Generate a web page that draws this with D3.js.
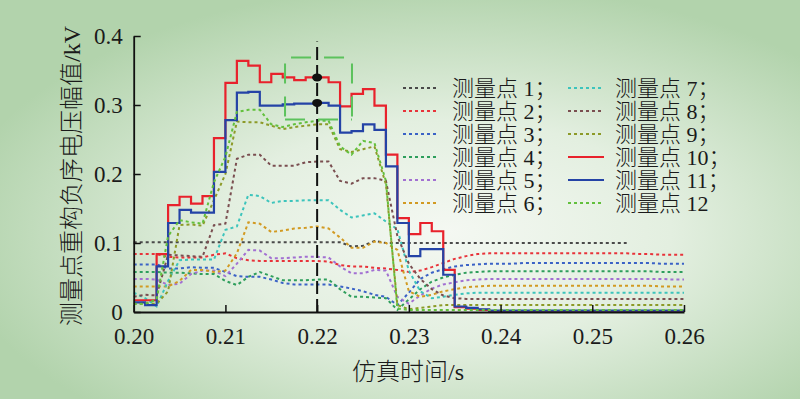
<!DOCTYPE html>
<html>
<head>
<meta charset="utf-8">
<script src="https://cdn.jsdelivr.net/npm/d3@7"></script>
<style>
  body { margin: 0; }
  svg { display: block; }
</style>
</head>
<body>
<div class="chart"></div>
<script>

// simulation time grid (s)
const times = [0.20000, 0.20125, 0.20250, 0.20375, 0.20500, 0.20625, 0.20750, 0.20875, 0.21000, 0.21125,
    0.21250, 0.21375, 0.21500, 0.21625, 0.21750, 0.21875, 0.22000, 0.22125, 0.22250, 0.22375,
    0.22500, 0.22625, 0.22750, 0.22875, 0.23000, 0.23125, 0.23250, 0.23375, 0.23500, 0.23625,
    0.23750, 0.23875, 0.24000, 0.24125, 0.24250, 0.24375, 0.24500, 0.24625, 0.24750, 0.24875,
    0.25000, 0.25125, 0.25250, 0.25375, 0.25500, 0.25625, 0.25750, 0.25875, 0.26000]

// reconstructed negative sequence voltage (kV) per measuring point
const p1 = [0.101, 0.101, 0.101, 0.101, 0.101, 0.101, 0.101, 0.101, 0.101, 0.101,
    0.101, 0.101, 0.101, 0.101, 0.101, 0.101, 0.101, 0.101, 0.101, 0.095,
    0.096, 0.103, 0.100, 0.100, 0.100, 0.100, 0.100, 0.100, 0.100, 0.100,
    0.100, 0.100, 0.100, 0.100, 0.100, 0.100, 0.100, 0.100, 0.100, 0.100,
    0.100, 0.100, 0.100, 0.100, null, null, null, null, null]
const p2 = [0.084, 0.084, 0.084, 0.080, 0.079, 0.079, 0.079, 0.083, 0.085, 0.078,
    0.075, 0.074, 0.074, 0.074, 0.074, 0.074, 0.074, 0.073, 0.068, 0.066,
    0.066, 0.064, 0.063, 0.061, 0.058, 0.060, 0.065, 0.071, 0.077, 0.081,
    0.084, 0.085, 0.085, 0.085, 0.085, 0.085, 0.085, 0.085, 0.085, 0.085,
    0.085, 0.085, 0.085, 0.085, 0.084, 0.084, 0.083, 0.083, 0.083]
const p3 = [0.069, 0.069, 0.069, 0.063, 0.063, 0.065, 0.064, 0.064, 0.058, 0.052,
    0.051, 0.051, 0.047, 0.042, 0.040, 0.040, 0.040, 0.040, 0.037, 0.034,
    0.030, 0.025, 0.022, 0.010, 0.028, 0.048, 0.057, 0.062, 0.066, 0.068,
    0.069, 0.070, 0.070, 0.070, 0.071, 0.071, 0.071, 0.071, 0.071, 0.071,
    0.071, 0.071, 0.071, 0.071, 0.071, 0.071, 0.070, 0.070, 0.070]
const p4 = [0.058, 0.058, 0.058, 0.057, 0.057, 0.056, 0.055, 0.055, 0.045, 0.039,
    0.051, 0.058, 0.052, 0.046, 0.046, 0.046, 0.047, 0.047, 0.033, 0.022,
    0.022, 0.021, 0.020, 0.003, 0.018, 0.033, 0.044, 0.050, 0.054, 0.057,
    0.058, 0.059, 0.059, 0.059, 0.059, 0.059, 0.059, 0.059, 0.059, 0.059,
    0.059, 0.059, 0.059, 0.059, 0.059, 0.059, 0.058, 0.058, 0.058]
const p5 = [0.048, 0.048, 0.047, 0.039, 0.041, 0.055, 0.060, 0.060, 0.052, 0.070,
    0.090, 0.089, 0.078, 0.078, 0.079, 0.080, 0.080, 0.079, 0.066, 0.056,
    0.056, 0.061, 0.060, 0.022, 0.012, 0.024, 0.034, 0.040, 0.043, 0.046,
    0.047, 0.048, 0.048, 0.048, 0.048, 0.048, 0.048, 0.048, 0.048, 0.048,
    0.048, 0.048, 0.048, 0.048, 0.048, 0.048, 0.048, 0.047, 0.047]
const p6 = [0.037, 0.037, 0.037, 0.037, 0.045, 0.061, 0.061, 0.058, 0.060, 0.085,
    0.130, 0.128, 0.116, 0.118, 0.121, 0.122, 0.124, 0.121, 0.108, 0.093,
    0.093, 0.102, 0.100, 0.090, 0.030, 0.022, 0.025, 0.030, 0.033, 0.036,
    0.037, 0.038, 0.038, 0.038, 0.038, 0.038, 0.038, 0.038, 0.038, 0.038,
    0.038, 0.038, 0.038, 0.038, 0.038, 0.038, 0.037, 0.037, 0.037]
const p7 = [0.028, 0.020, 0.008, 0.045, 0.075, 0.076, 0.076, 0.076, 0.119, 0.124,
    0.170, 0.168, 0.158, 0.161, 0.161, 0.162, 0.162, 0.162, 0.148, 0.137,
    0.140, 0.143, 0.131, 0.120, 0.060, 0.030, 0.020, 0.022, 0.025, 0.027,
    0.028, 0.028, 0.028, 0.028, 0.028, 0.028, 0.028, 0.028, 0.028, 0.028,
    0.028, 0.028, 0.028, 0.028, 0.028, 0.028, 0.028, 0.028, 0.028]
const p8 = [0.022, 0.025, 0.024, 0.083, 0.082, 0.081, 0.080, 0.126, 0.128, 0.222,
    0.228, 0.228, 0.212, 0.212, 0.212, 0.217, 0.218, 0.218, 0.190, 0.186,
    0.194, 0.194, 0.190, 0.110, 0.070, 0.048, 0.033, 0.024, 0.020, 0.019,
    0.019, 0.019, 0.019, 0.019, 0.019, 0.019, 0.019, 0.019, 0.019, 0.019,
    0.019, 0.019, 0.019, 0.019, 0.019, 0.019, 0.019, 0.019, 0.019]
const p9 = [0.012, 0.012, 0.012, 0.030, 0.126, 0.127, 0.125, 0.162, 0.200, 0.276,
    0.275, 0.275, 0.270, 0.265, 0.268, 0.270, 0.272, 0.272, 0.236, 0.232,
    0.236, 0.240, 0.185, 0.010, 0.004, 0.006, 0.008, 0.010, 0.010, 0.010,
    0.010, 0.010, 0.010, 0.010, 0.010, 0.010, 0.010, 0.010, 0.010, 0.010,
    0.010, 0.010, 0.010, 0.010, 0.010, 0.010, 0.010, 0.010, 0.010]
const p10 = [0.017, 0.017, 0.084, 0.155, 0.167, 0.157, 0.168, 0.252, 0.332, 0.364,
    0.357, 0.333, 0.345, 0.340, 0.336, 0.340, 0.340, 0.333, 0.298, 0.316,
    0.323, 0.299, 0.228, 0.136, 0.113, 0.129, 0.117, 0.061, 0.007, 0.005,
    0.003, 0.001, 0, 0, 0, 0, 0, 0, 0, 0,
    0, 0, 0, 0, 0, 0, 0, 0, 0]
const p11 = [0.014, 0.010, 0.066, 0.129, 0.148, 0.144, 0.144, 0.203, 0.278, 0.318,
    0.319, 0.299, 0.299, 0.301, 0.302, 0.302, 0.303, 0.299, 0.260, 0.262,
    0.272, 0.264, 0.211, 0.129, 0.081, 0.091, 0.091, 0.054, 0.008, 0.006,
    0.004, 0.002, 0.002, 0.002, 0.002, 0.002, 0.002, 0.002, 0.002, 0.002,
    0.002, 0.002, 0.002, 0.002, 0.002, 0.002, 0.002, 0.002, 0.002]
const p12 = [0.012, 0.012, 0.018, 0.110, 0.133, 0.130, 0.128, 0.188, 0.225, 0.290,
    0.293, 0.293, 0.272, 0.268, 0.272, 0.275, 0.277, 0.277, 0.240, 0.228,
    0.248, 0.245, 0.190, 0.005, 0.003, 0.003, 0.003, 0.003, 0.003, 0.003,
    0.003, 0.003, 0.003, 0.003, 0.003, 0.003, 0.003, 0.003, 0.003, 0.003,
    0.003, 0.003, 0.003, 0.003, 0.003, 0.003, 0.003, 0.003, 0.003]

const seriesValues = [p1, p2, p3, p4, p5, p6, p7, p8, p9, p10, p11, p12]
const seriesNames = ["测量点 1；", "测量点 2；", "测量点 3；", "测量点 4；", "测量点 5；", "测量点 6；",
    "测量点 7；", "测量点 8；", "测量点 9；", "测量点 10；", "测量点 11；", "测量点 12"]

const xTicks = [0.20, 0.21, 0.22, 0.23, 0.24, 0.25, 0.26]
const xTickLabels = ["0.20", "0.21", "0.22", "0.23", "0.24", "0.25", "0.26"]
const yTicks = [0, 0.1, 0.2, 0.3, 0.4]
const yTickLabels = ["0", "0.1", "0.2", "0.3", "0.4"]

// marked instant and the zoom box around it
const markTime = 0.22
const markLineTop = 0.392
const boxTimes = [0.2165, 0.2238]
const boxValues = [0.279, 0.369]

// styles (kept apart from the data)
const colors = ["#4a4a4a", "#e8333a", "#3a62c6", "#2e9e5c", "#a270d2", "#d29a22",
    "#3cc4bc", "#7a4e50", "#8c9a28", "#e8222c", "#2443a6", "#62c03c"]
const solid = [false, false, false, false, false, false, false, false, false, true, true, false]

const width = 800, height = 399
const plot = { left: 133.7, right: 684, top: 36, bottom: 312 }
const serif = "'Liberation Serif', 'Noto Sans CJK SC', serif"

let svg = d3.select(".chart").append("svg")
    .attr("width", width)
    .attr("height", height)

// greenish background with a light centre
let grad = svg.append("defs").append("radialGradient")
    .attr("id", "bg")
    .attr("cx", "56%")
    .attr("cy", "58%")
    .attr("r", "62%")
grad.append("stop").attr("offset", "0%").attr("stop-color", "#f4f8f2")
grad.append("stop").attr("offset", "45%").attr("stop-color", "#e3efe0")
grad.append("stop").attr("offset", "100%").attr("stop-color", "#b2d3ac")

svg.append("rect")
    .attr("width", width)
    .attr("height", height)
    .attr("fill", "url(#bg)")

let xScale = d3.scaleLinear()
    .domain([0.2, 0.26])
    .range([plot.left, plot.right])

let yScale = d3.scaleLinear()
    .domain([0, 0.4])
    .range([plot.bottom, plot.top])

let xAxis = d3.axisBottom(xScale)
    .tickValues(xTicks)
    .tickFormat((d, i) => xTickLabels[i])
    .tickSizeInner(-7)
    .tickSizeOuter(0)
    .tickPadding(16)

let yAxis = d3.axisLeft(yScale)
    .tickValues(yTicks)
    .tickFormat((d, i) => yTickLabels[i])
    .tickSizeInner(-7)
    .tickSizeOuter(0)
    .tickPadding(11)

// series lines, dotted ones first, solid 10/11 then 12 on top
let lineGroup = svg.append("g").attr("class", "series")

seriesValues.forEach(function (vals, i) {
    let pts = times.map((t, k) => ({ t: t, v: vals[k] }))
    let line = d3.line()
        .defined(d => d.v != null)
        .x(d => xScale(d.t))
        .y(d => yScale(d.v))
        .curve(solid[i] ? d3.curveStepAfter : d3.curveLinear)

    lineGroup.append("path")
        .datum(pts)
        .attr("fill", "none")
        .attr("stroke", colors[i])
        .attr("stroke-width", solid[i] ? 2.2 : 2)
        .attr("stroke-dasharray", solid[i] ? null : "3,3")
        .attr("d", line)
})

// axes
svg.append("g")
    .attr("class", "axis x-axis")
    .attr("transform", `translate(0, ${plot.bottom})`)
    .call(xAxis)

svg.append("g")
    .attr("class", "axis y-axis")
    .attr("transform", `translate(${plot.left}, 0)`)
    .call(yAxis)

svg.selectAll(".axis")
    .attr("font-family", "Liberation Serif")
    .attr("font-size", 23)
svg.selectAll(".axis path").attr("stroke", "#111").attr("stroke-width", 1.8)
svg.selectAll(".axis line").attr("stroke", "#111").attr("stroke-width", 1.5)
svg.selectAll(".axis text")
    .attr("fill", "#1a1a1a")
    .style("font-family", "'Liberation Serif', 'Times New Roman', serif")
    .style("font-size", "23px")

// dashed marker line at t = 0.22
let mx = xScale(markTime)
svg.append("line")
    .attr("x1", mx).attr("x2", mx)
    .attr("y1", yScale(0)).attr("y2", yScale(markLineTop))
    .attr("stroke", "#111")
    .attr("stroke-width", 2)
    .attr("stroke-dasharray", "13,5")

// green dashed zoom box (each edge dashed on its own)
let bx0 = xScale(boxTimes[0]), bx1 = xScale(boxTimes[1])
let by0 = yScale(boxValues[1]), by1 = yScale(boxValues[0])
let edges = [
    [bx0, by0, bx1, by0, 27],
    [bx0, by0, bx0, by1, 27],
    [bx1, by0, bx1, by1, 27],
    [bx0, by1, bx1, by1, 0]
]
svg.append("g").selectAll("line")
    .data(edges)
    .join("line")
    .attr("x1", d => d[0]).attr("y1", d => d[1])
    .attr("x2", d => d[2]).attr("y2", d => d[3])
    .attr("stroke", "#5cc25c")
    .attr("stroke-width", 2)
    .attr("stroke-dasharray", "20,13")
    .attr("stroke-dashoffset", d => d[4])

// black dots where measuring points 10 and 11 cross the marker line
let markIdx = times.indexOf(markTime)
svg.append("g").selectAll("ellipse")
    .data([p10[markIdx], p11[markIdx]])
    .join("ellipse")
    .attr("cx", mx)
    .attr("cy", d => yScale(d))
    .attr("rx", 5)
    .attr("ry", 4)
    .attr("fill", "#111")

// legend, two columns of six
let legend = svg.append("g").attr("class", "legend")
seriesNames.forEach(function (name, i) {
    let col = i < 6 ? 0 : 1
    let row = i % 6
    let y = 88 + row * 23
    let lx = col === 0 ? 403 : 568
    let tx = col === 0 ? 452 : 615

    legend.append("line")
        .attr("x1", lx).attr("x2", lx + 36)
        .attr("y1", y).attr("y2", y)
        .attr("stroke", colors[i])
        .attr("stroke-width", solid[i] ? 2.2 : 2)
        .attr("stroke-dasharray", solid[i] ? null : "3,3")

    legend.append("text")
        .attr("x", tx)
        .attr("y", y)
        .attr("dominant-baseline", "central")
        .attr("fill", "#1a1a1a")
        .style("font-family", serif)
        .style("font-size", "22px")
        .style("font-weight", 300)
        .text(name)
})

// axis titles
svg.append("text")
    .attr("x", 408)
    .attr("y", 372)
    .attr("text-anchor", "middle")
    .attr("dominant-baseline", "central")
    .attr("fill", "#1a1a1a")
    .style("font-family", serif)
    .style("font-size", "24px")
    .style("font-weight", 300)
    .text("仿真时间/s")

svg.append("text")
    .attr("transform", "translate(72, 176) rotate(-90)")
    .attr("text-anchor", "middle")
    .attr("dominant-baseline", "central")
    .attr("fill", "#1a1a1a")
    .style("font-family", serif)
    .style("font-size", "24px")
    .style("font-weight", 300)
    .text("测量点重构负序电压幅值/kV")

</script>
</body>
</html>
